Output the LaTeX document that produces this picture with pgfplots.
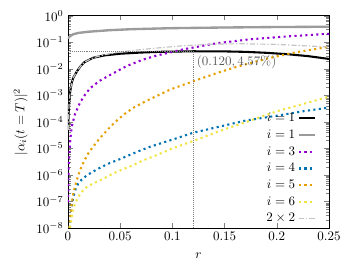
\documentclass[border=0pt]{standalone}
\usepackage{pgfplots}
\pgfplotsset{compat=1.18}
\definecolor{cpurple}{HTML}{9400D3}
\definecolor{cblue}{HTML}{0072B2}
\definecolor{corange}{HTML}{E69F00}
\definecolor{cyellow}{HTML}{F0E442}
\definecolor{cgray}{HTML}{9A9A9A}
\definecolor{clight}{HTML}{C4C4C4}
\begin{document}
\begin{tikzpicture}
\begin{axis}[
  name=main,
  scale only axis,
  width=200.8pt, height=163.3pt,
  ymode=log,
  xmin=0, xmax=0.25, ymin=1e-8, ymax=1,
  xtick={0,0.05,0.1,0.15,0.2,0.25},
  xticklabels={$0$,$0.05$,$0.1$,$0.15$,$0.2$,$0.25$},
  ytick={1e-8,1e-7,1e-6,1e-5,1e-4,1e-3,1e-2,1e-1,1},
  xlabel={$r$},
  ylabel={$|\alpha_i(t=T)|^2$},
  xlabel style={yshift=-2pt},
  axis line style={line width=0.6pt},
  major tick length=3.5pt, minor tick length=2pt,
  legend plot pos=right,
  legend cell align=right,
  legend style={draw=none, fill=none, at={(0.955,0.0)}, anchor=south east, row sep=0.8pt, inner sep=1pt},
  legend image code/.code={\draw[#1] (0cm,0cm) -- (0.42cm,0cm);},
]
% i=1 black
\addplot[black, line width=1.6pt] coordinates {
(0.0002,5e-5) (0.0005,1.5e-4) (0.001,4.5e-4) (0.002,1.3e-3) (0.0035,2.9e-3) (0.005,4.5e-3)
(0.0083,7.7e-3) (0.012,0.0125) (0.016,0.018) (0.024,0.026) (0.035,0.032) (0.05,0.037)
(0.07,0.041) (0.09,0.0438) (0.12,0.0457) (0.15,0.0452) (0.17,0.0435) (0.19,0.040)
(0.21,0.0355) (0.23,0.030) (0.25,0.0235)};
\addlegendentry{$i=1$}
% i=1 gray
\addplot[cgray, line width=1.8pt] coordinates {
(0,0.14) (0.002,0.17) (0.005,0.20) (0.01,0.225) (0.02,0.25) (0.04,0.285) (0.06,0.31)
(0.1,0.34) (0.15,0.36) (0.2,0.375) (0.25,0.385)};
\addlegendentry{$i=1$}
% i=3
\addplot[cpurple, line width=1.6pt, dash pattern=on 1.6pt off 2.6pt] coordinates {
(0.00015,9.3e-8) (0.0003,3.7e-7) (0.0006,1.49e-6) (0.001,4.13e-6) (0.002,1.65e-5)
(0.0035,6.5e-5) (0.0067,1.95e-4) (0.0115,5.3e-4) (0.0163,1.05e-3) (0.021,1.82e-3)
(0.03,3.47e-3) (0.04,5.75e-3) (0.056,0.0126) (0.072,0.0224) (0.085,0.0316) (0.11,0.0537)
(0.142,0.0912) (0.174,0.129) (0.21,0.166) (0.25,0.209)};
\addlegendentry{$i=3$}
% i=4
\addplot[cblue, line width=1.6pt, dash pattern=on 1.6pt off 2.6pt] coordinates {
(0.0015,1e-8) (0.003,5e-8) (0.005,1.41e-7) (0.0075,3.16e-7) (0.0099,4.8e-7) (0.013,6.6e-7)
(0.017,8.9e-7) (0.022,1.2e-6) (0.031,1.9e-6) (0.04,2.8e-6) (0.05,3.98e-6) (0.066,7.4e-6)
(0.0785,1.15e-5) (0.1,2.14e-5) (0.12,3.9e-5) (0.145,6.6e-5) (0.17,1.12e-4) (0.2,1.7e-4)
(0.225,2.5e-4) (0.25,3.47e-4)};
\addlegendentry{$i=4$}
% i=5
\addplot[corange, line width=1.6pt, dash pattern=on 1.6pt off 2.6pt] coordinates {
(0.001,6.3e-9) (0.002,2.24e-8) (0.0035,7.9e-8) (0.005,1.9e-7) (0.0075,4.8e-7) (0.01,1.0e-6)
(0.013,2.09e-6) (0.0165,3.98e-6) (0.0195,6.6e-6) (0.024,1.15e-5) (0.031,2.57e-5)
(0.039,5.6e-5) (0.047,1.15e-4) (0.055,2.09e-4) (0.063,3.47e-4) (0.073,5.6e-4)
(0.082,8.3e-4) (0.098,1.66e-3) (0.12,3.39e-3) (0.142,6.8e-3) (0.162,0.012) (0.19,0.024)
(0.213,0.038) (0.23,0.050) (0.25,0.0676)};
\addlegendentry{$i=5$}
% i=6
\addplot[cyellow, line width=1.6pt, dash pattern=on 1.6pt off 2.6pt] coordinates {
(0.001,4e-9) (0.002,1.1e-8) (0.005,5.4e-8) (0.0083,1.12e-7) (0.0115,1.9e-7) (0.016,3.1e-7)
(0.024,4.8e-7) (0.034,7.2e-7) (0.043,1.12e-6) (0.053,1.66e-6) (0.0625,2.34e-6)
(0.072,3.55e-6) (0.082,5.0e-6) (0.1,1e-5) (0.12,1.9e-5) (0.145,4.5e-5) (0.171,1e-4)
(0.2,2.5e-4) (0.225,4.7e-4) (0.25,8.9e-4)};
\addlegendentry{$i=6$}
% 2x2
\addplot[clight, line width=0.9pt, dash pattern=on 4pt off 1.5pt on 1pt off 1.5pt] coordinates {
(0.0002,5e-5) (0.0005,1.5e-4) (0.001,4.5e-4) (0.002,1.3e-3) (0.0035,2.9e-3) (0.005,4.5e-3)
(0.0083,7.7e-3) (0.012,0.0125) (0.016,0.018) (0.024,0.026) (0.035,0.034) (0.05,0.043)
(0.07,0.053) (0.088,0.062) (0.11,0.074) (0.14,0.085) (0.165,0.088) (0.2,0.083) (0.25,0.066)};
\addlegendentry{$2\times 2$}
\addplot[gray!75, line width=0.9pt, dash pattern=on 4pt off 1.5pt on 1pt off 1.5pt, forget plot] coordinates {
(0,0.14) (0.002,0.17) (0.005,0.20) (0.01,0.225) (0.02,0.25) (0.04,0.285) (0.06,0.31)
(0.1,0.34) (0.15,0.36) (0.2,0.375) (0.25,0.385)};
% reference lines
\addplot[gray, line width=0.5pt, densely dotted, forget plot] coordinates {(0,0.0457) (0.12,0.0457)};
\addplot[gray, line width=0.5pt, densely dotted, forget plot] coordinates {(0.12,1e-8) (0.12,0.0457)};
\node[anchor=north west, text=black!65, inner sep=1pt] at (axis cs:0.122,0.034) {$(0.120, 4.57\%)$};
\end{axis}
\pgfresetboundingbox
\useasboundingbox ([xshift=-52.3pt,yshift=-34.6pt]main.south west) rectangle ([xshift=20pt,yshift=12.1pt]main.north east);
\end{tikzpicture}
\end{document}
